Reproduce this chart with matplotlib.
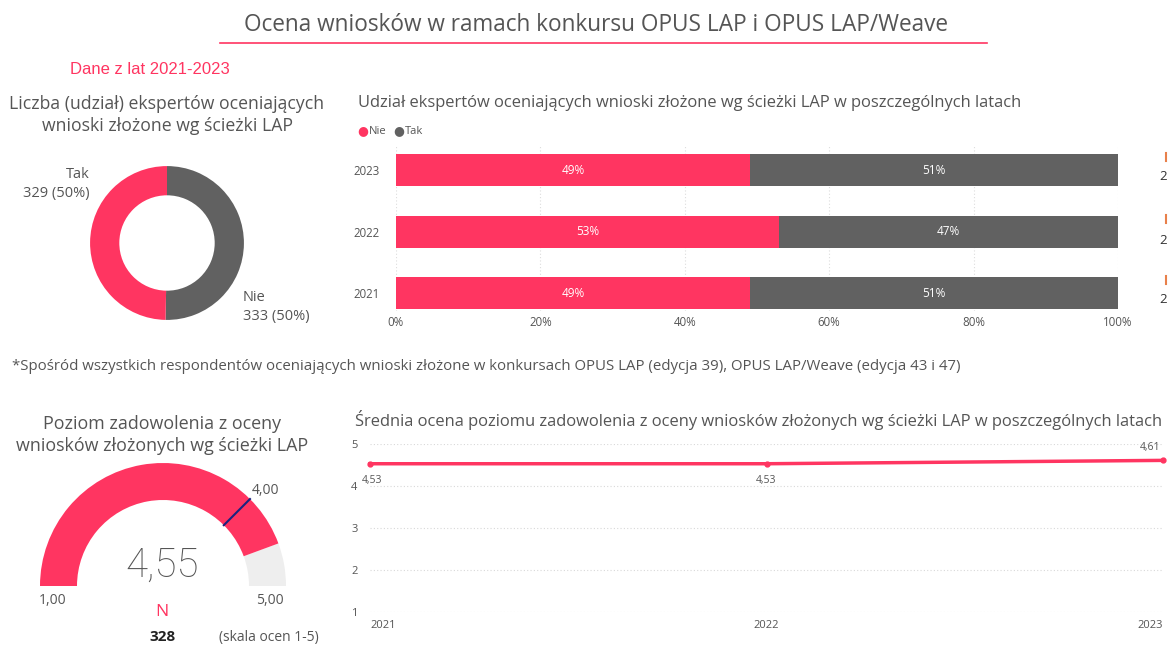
import matplotlib
matplotlib.use("Agg")
import matplotlib.pyplot as plt
from matplotlib.patches import Wedge
import numpy as np

plt.rcParams['font.family'] = ['Open Sans', 'DejaVu Sans']

PINK = "#FF3561"
DGRAY = "#616161"
TXT = "#555555"

# donut data
donut_labels = ["Nie", "Tak"]
donut_counts = [333, 329]
donut_pcts = [50, 50]

# yearly share (stacked bars)
bar_years = ["2021", "2022", "2023"]
share_nie = [49, 53, 49]
share_tak = [51, 47, 51]

# gauge
gauge_value = 4.55
gauge_target = 4.00
gauge_min, gauge_max = 1.0, 5.0
gauge_n = 328

# yearly mean satisfaction
line_years = [2021, 2022, 2023]
line_means = [4.53, 4.53, 4.61]

W, H = 1168, 645
fig = plt.figure(figsize=(W / 100, H / 100), dpi=100)


def px_axes(x0, y0, x1, y1):
    # pixel box (top-left origin) -> figure axes
    return fig.add_axes([x0 / W, 1 - y1 / H, (x1 - x0) / W, (y1 - y0) / H])


def ftext(x, y, s, **kw):
    kw.setdefault("color", TXT)
    kw.setdefault("va", "center")
    return fig.text(x / W, 1 - y / H, s, **kw)


# header
ftext(596, 25, "Ocena wniosków w ramach konkursu OPUS LAP i OPUS LAP/Weave",
      ha="center", fontsize=16.3, color="#555555")
fig.add_artist(plt.Line2D([220 / W, 987 / W], [1 - 43 / H, 1 - 43 / H],
                          color=PINK, lw=1.2))
ftext(70, 70, "Dane z lat 2021-2023", fontsize=12, color=PINK,
      family=['Liberation Sans', 'DejaVu Sans'])

# ---- donut
ftext(167, 115, "Liczba (udział) ekspertów oceniających\nwnioski złożone wg ścieżki LAP",
      ha="center", fontsize=12.7, linespacing=1.25)
ax = px_axes(67, 143, 267, 343)
ax.pie(donut_counts, colors=[DGRAY, PINK], startangle=90, counterclock=False,
       radius=1, wedgeprops=dict(width=0.38, edgecolor="none"))
ax.set_xlim(-1.3, 1.3)
ax.set_ylim(-1.3, 1.3)
ax.set_aspect("equal")
ftext(90, 184, f"{donut_labels[1]}\n{donut_counts[1]} ({donut_pcts[1]}%)",
      ha="right", fontsize=10.5, linespacing=1.3, multialignment="right")
ftext(243, 307, f"{donut_labels[0]}\n{donut_counts[0]} ({donut_pcts[0]}%)",
      ha="left", fontsize=10.5, linespacing=1.3)

# ---- stacked bars
ftext(358, 103, "Udział ekspertów oceniających wnioski złożone wg ścieżki LAP w poszczególnych latach",
      ha="left", fontsize=11.9)
ftext(357, 131, "●", ha="left", fontsize=9, color=PINK)
ftext(369, 131, "Nie", ha="left", fontsize=8)
ftext(393, 131, "●", ha="left", fontsize=9, color=DGRAY)
ftext(405, 131, "Tak", ha="left", fontsize=8)

ax = px_axes(396, 145, 1118, 311)
y = np.arange(len(bar_years))
ax.barh(y, share_nie, height=0.52, color=PINK)
ax.barh(y, share_tak, left=share_nie, height=0.52, color=DGRAY)
for i in range(len(bar_years)):
    ax.text(share_nie[i] / 2, y[i], f"{share_nie[i]}%", color="white",
            ha="center", va="center", fontsize=8.5)
    ax.text(share_nie[i] + share_tak[i] / 2, y[i], f"{share_tak[i]}%", color="white",
            ha="center", va="center", fontsize=8.5)
ax.set_xlim(0, 100)
ax.set_ylim(-0.29, 2.41)
ax.set_yticks(y)
ax.set_yticklabels(bar_years)
ax.set_xticks([0, 20, 40, 60, 80, 100])
ax.set_xticklabels(["0%", "20%", "40%", "60%", "80%", "100%"])
ax.tick_params(length=0, labelsize=8.3, labelcolor=TXT)
ax.tick_params(axis="y", pad=12)
ax.grid(axis="x", color="#dddddd", linestyle=(0, (1, 2)), lw=0.8)
ax.set_axisbelow(True)
for s in ax.spines.values():
    s.set_visible(False)
# clipped labels at the right edge
for yy in [177, 240, 300]:
    ftext(1159, yy, "2", ha="left", fontsize=9.5, color="#333333")
for yy in [157, 219, 280]:
    fig.add_artist(plt.Line2D([1166 / W, 1166 / W], [1 - (yy - 4) / H, 1 - (yy + 4) / H],
                              color="#E8804A", lw=1.5))

# ---- footnote
ftext(12, 367, "*Spośród wszystkich respondentów oceniających wnioski złożone w konkursach "
      "OPUS LAP (edycja 39), OPUS LAP/Weave (edycja 43 i 47)", ha="left", fontsize=10.8)

# ---- gauge
ftext(162, 435, "Poziom zadowolenia z oceny\nwniosków złożonych wg ścieżki LAP",
      ha="center", fontsize=12.9, linespacing=1.25)
ax = px_axes(20, 450, 305, 600)
cx, cy, r_out, r_in = 0.0, 0.0, 123, 86


def ang(v):
    return 180 - (v - gauge_min) / (gauge_max - gauge_min) * 180


ax.add_patch(Wedge((cx, cy), r_out, 0, ang(gauge_value), width=r_out - r_in,
                   color="#EEEEEE", lw=0))
ax.add_patch(Wedge((cx, cy), r_out, ang(gauge_value), 180, width=r_out - r_in,
                   color=PINK, lw=0))
t = np.deg2rad(ang(gauge_target))
ax.plot([r_in * np.cos(t), r_out * np.cos(t)], [r_in * np.sin(t), r_out * np.sin(t)],
        color="#1A237E", lw=1.5)
ax.set_xlim(-143, 142)
ax.set_ylim(-14, 136)
ax.set_aspect("equal")
ax.axis("off")
ftext(265, 490, f"{gauge_target:.2f}".replace(".", ","), ha="center", fontsize=10)
ftext(162, 565, f"{gauge_value:.2f}".replace(".", ","), ha="center", fontsize=29,
      color="#555555", family=['Roboto', 'DejaVu Sans'], weight="light")
ftext(53, 601, f"{gauge_min:.2f}".replace(".", ","), ha="center", fontsize=10)
ftext(270, 601, f"{gauge_max:.2f}".replace(".", ","), ha="center", fontsize=10)
ftext(162, 612, "N", ha="center", fontsize=12.5, color=PINK)
ftext(163, 637, str(gauge_n), ha="center", fontsize=11, color="#222222", weight="bold")
ftext(269, 637, "(skala ocen 1-5)", ha="center", fontsize=10)

# ---- line
ftext(355, 420, "Średnia ocena poziomu zadowolenia z oceny wniosków złożonych wg ścieżki LAP w poszczególnych latach",
      ha="left", fontsize=11.9)
ax = px_axes(370, 444, 1163, 612)
ax.plot(line_years, line_means, color=PINK, lw=2.5, marker="o", ms=3.5, clip_on=False)
for i, (xv, yv) in enumerate(zip(line_years, line_means)):
    lab = f"{yv:.2f}".replace(".", ",")
    if i == 0:
        ax.annotate(lab, (xv, yv), xytext=(-6, -12), textcoords="offset points",
                    ha="left", va="center", fontsize=7.5, color=TXT)
    elif i < len(line_years) - 1:
        ax.annotate(lab, (xv, yv), xytext=(0, -12), textcoords="offset points",
                    ha="center", va="center", fontsize=7.5, color=TXT)
    else:
        ax.annotate(lab, (xv, yv), xytext=(-9, 9), textcoords="offset points",
                    ha="center", va="center", fontsize=7.5, color=TXT)
ax.set_xlim(2021, 2023)
ax.set_ylim(1, 5)
ax.set_xticks(line_years)
ax.set_xticklabels([str(v) for v in line_years])
xl = ax.get_xticklabels()
xl[0].set_ha("left")
xl[0].set_x(2020.99)
xl[-1].set_ha("right")
ax.set_yticks([1, 2, 3, 4, 5])
ax.tick_params(length=0, labelsize=8, labelcolor=TXT)
ax.tick_params(axis="y", pad=9)
ax.tick_params(axis="x", pad=6)
ax.grid(axis="y", color="#d8d8d8", linestyle=(0, (1, 2)), lw=0.8)
for s in ax.spines.values():
    s.set_visible(False)

fig.savefig("out.png", dpi=100, facecolor="white")
